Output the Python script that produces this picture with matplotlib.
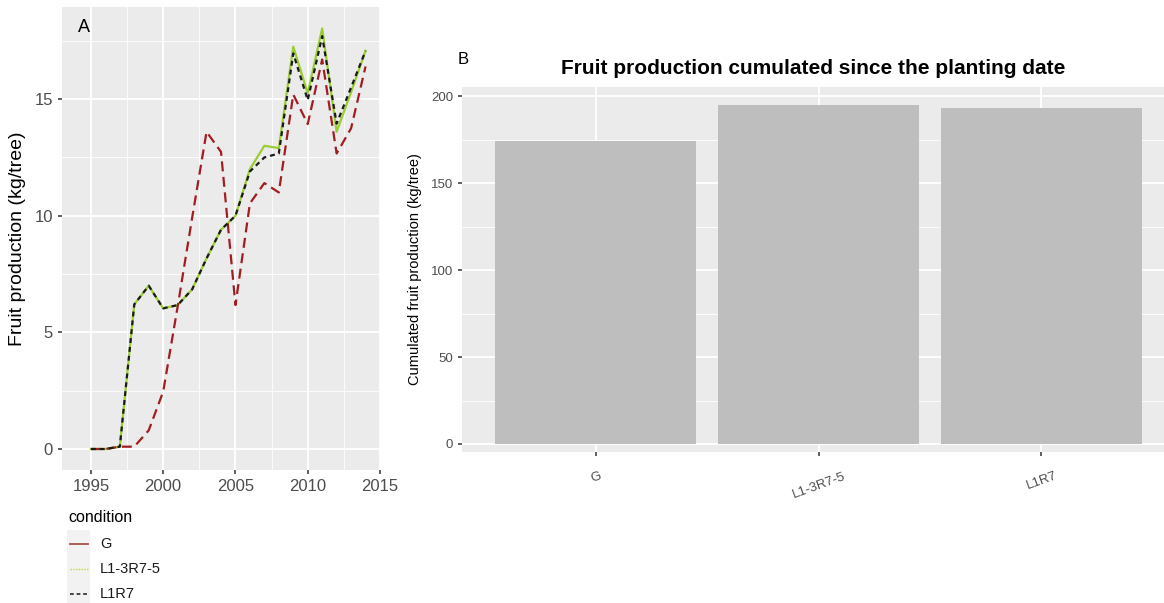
import numpy as np
import matplotlib
matplotlib.use("Agg")
import matplotlib.pyplot as plt
from matplotlib.lines import Line2D
from matplotlib.patches import Rectangle
from matplotlib.ticker import MultipleLocator

plt.rcParams.update({
    "font.family": ["Liberation Sans", "DejaVu Sans"],
})

years = np.arange(1995, 2015)
prod_G = [0, 0, 0.1, 0.1, 0.8, 2.46, 6.1, 9.9, 13.6, 12.74,
          6.17, 10.53, 11.4, 11.0, 15.2, 13.93, 16.7, 12.67, 13.75, 16.4]
prod_L13R75 = [0, 0, 0.1, 6.2, 7.0, 6.03, 6.17, 6.84, 8.17, 9.4,
               10.0, 12.0, 13.0, 12.9, 17.25, 15.25, 18.03, 13.6, 15.3, 17.07]
prod_L1R7 = [0, 0, 0.1, 6.2, 7.0, 6.03, 6.17, 6.84, 8.17, 9.4,
             10.0, 11.9, 12.5, 12.67, 16.96, 14.96, 17.7, 13.95, 15.5, 17.07]

conditions = ["G", "L1-3R7-5", "L1R7"]
cumulated = [174, 195, 193]

c_red = "#A11D21"
c_green = "#9ACD32"
c_black = "#1A1A1A"
panel_bg = "#EBEBEB"
tick_col = "#4D4D4D"

W, H = 1164, 603
fig = plt.figure(figsize=(W / 100, H / 100), dpi=100)


def px_axes(x0, y0, x1, y1):
    return fig.add_axes([x0 / W, 1 - y1 / H, (x1 - x0) / W, (y1 - y0) / H])


def gg_style(ax):
    ax.set_facecolor(panel_bg)
    for s in ax.spines.values():
        s.set_visible(False)
    ax.grid(True, which="major", color="white", lw=1.3)
    ax.grid(True, which="minor", color="white", lw=0.6)
    ax.set_axisbelow(True)
    ax.tick_params(which="major", color="#333333", length=3, width=1.1)
    ax.tick_params(which="minor", length=0)


# ---- panel A ----
ax1 = px_axes(62, 7, 380, 470)
gg_style(ax1)
ax1.plot(years, prod_L13R75, color=c_green, lw=1.6, zorder=3)
ax1.plot(years, prod_L1R7, color=c_black, lw=1.6, dashes=(2.2, 1.8), zorder=4)
ax1.plot(years, prod_G, color=c_red, lw=1.6, dashes=(4.5, 2.5), zorder=3)
ax1.set_xlim(1993.0, 2014.95)
ax1.set_ylim(-0.9, 18.95)
ax1.xaxis.set_major_locator(MultipleLocator(5))
ax1.xaxis.set_minor_locator(MultipleLocator(2.5))
ax1.yaxis.set_major_locator(MultipleLocator(5))
ax1.yaxis.set_minor_locator(MultipleLocator(2.5))
ax1.set_xticks([1995, 2000, 2005, 2010, 2015])
ax1.tick_params(axis="both", labelsize=12, labelcolor=tick_col)
ax1.set_ylabel("Fruit production (kg/tree)", fontsize=14, labelpad=6)
ax1.text(0.05, 0.975, "A", transform=ax1.transAxes, fontsize=13,
         ha="left", va="top")

# legend below panel A
fig.text(68 / W, 1 - 517 / H, "condition", fontsize=11.5, va="center", ha="left")
fig.add_artist(Rectangle((67 / W, 1 - 606 / H), 23 / W, 76 / H,
                         transform=fig.transFigure, facecolor="#F2F2F2",
                         edgecolor="none"))
keys = [
    ("G", dict(color="#A8504A", lw=1.3)),
    ("L1-3R7-5", dict(color="#B5D840", lw=1.0, dashes=(1, 1))),
    ("L1R7", dict(color=c_black, lw=1.1, dashes=(2.5, 1.8))),
]
for i, (lab, kw) in enumerate(keys):
    yk = 1 - (544 + 25 * i) / H
    fig.add_artist(Line2D([70 / W, 88 / W], [yk, yk],
                          transform=fig.transFigure, **kw))
    fig.text(100 / W, yk, lab, fontsize=10.5, va="center", ha="left",
             color="#1A1A1A")

# ---- panel B ----
ax2 = px_axes(462, 87, 1164, 452)
gg_style(ax2)
xpos = np.arange(1, len(conditions) + 1)
ax2.bar(xpos, cumulated, width=0.9, color="#BEBEBE", zorder=2)
ax2.set_xlim(0.4, 3.55)
ax2.set_ylim(-4.6, 205.2)
ax2.set_xticks(xpos)
ax2.set_xticklabels(conditions, rotation=20, ha="center")
ax2.yaxis.set_major_locator(MultipleLocator(50))
ax2.yaxis.set_minor_locator(MultipleLocator(25))
ax2.tick_params(axis="both", labelsize=9.5, labelcolor=tick_col)
ax2.tick_params(axis="x", pad=10)
ax2.set_ylabel("Cumulated fruit production (kg/tree)", fontsize=10.5,
               labelpad=6)
ax2.set_title("Fruit production cumulated since the planting date",
              fontsize=15, fontweight="bold", pad=9)
fig.text(458 / W, 1 - 60 / H, "B", fontsize=12, va="center", ha="left")

fig.savefig("out.png", dpi=100)
